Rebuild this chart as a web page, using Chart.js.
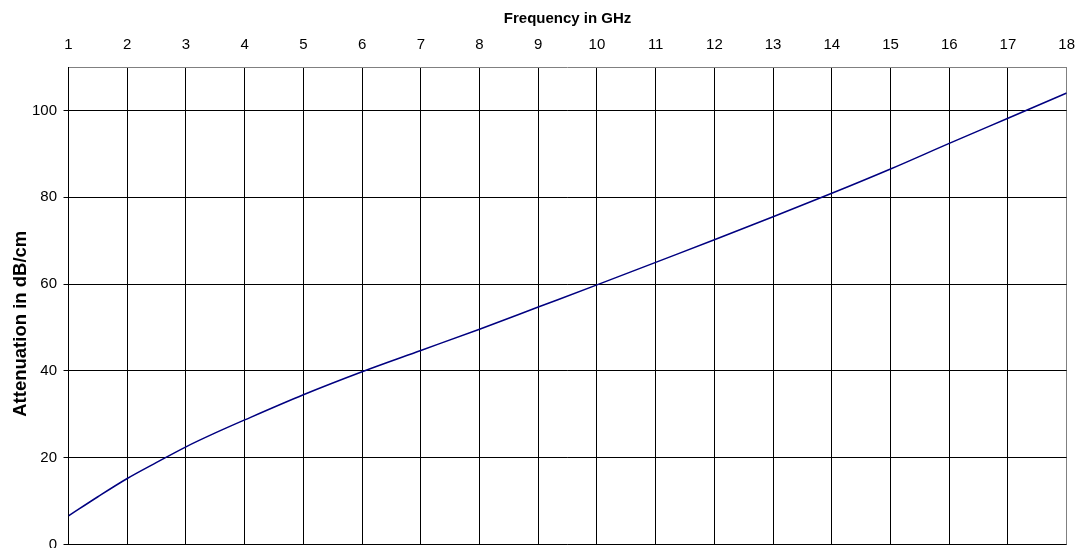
<!DOCTYPE html>
<html>
<head>
<meta charset="utf-8">
<script src="https://cdn.jsdelivr.net/npm/chart.js@4/dist/chart.umd.min.js"></script>
<style>
  html, body { margin: 0; padding: 0; background: #fff; overflow: hidden; }
  #wrap { width: 1078px; height: 560px; }
</style>
</head>
<body>
<div id="wrap"><canvas id="chart"></canvas></div>
<script>
// frequency in GHz and attenuation (denser where it bends)
const frequencies = [1, 1.5, 2, 2.5, 3, 3.5, 4, 5, 6, 7, 8, 9, 10, 11, 12, 13, 14, 15, 16, 17, 18];
const attenuation = [6.6, 11.0, 15.2, 18.9, 22.5, 25.7, 28.7, 34.5, 39.8, 44.7, 49.6, 54.7, 59.8, 65.0, 70.2, 75.5, 80.9, 86.5, 92.4, 98.2, 104.0];
const xTickStep = 1;
const yTicks = [0, 20, 40, 60, 80, 100];

const font = "'Liberation Sans', Arial, sans-serif";

new Chart(document.getElementById("chart"), {
  type: "line",
  data: {
    datasets: [{
      label: "Attenuation",
      data: frequencies.map((f, i) => ({ x: f, y: attenuation[i] })),
      borderColor: "#000080",
      borderWidth: 1.5,
      pointRadius: 0,
      cubicInterpolationMode: "monotone",
      fill: false
    }]
  },
  options: {
    responsive: true,
    maintainAspectRatio: false,
    animation: false,
    layout: { padding: { left: 9.4, right: 0, top: 9.5, bottom: 0 } },
    plugins: { legend: { display: false }, tooltip: { enabled: false } },
    scales: {
      x: {
        type: "linear",
        position: "top",
        min: 1,
        max: 18,
        ticks: { stepSize: xTickStep, color: "#000", font: { family: font, size: 15 }, padding: 3 },
        grid: {
          color: (ctx) => ctx.tick && ctx.tick.value === 18 ? "#808080" : "#000",
          lineWidth: 1,
          tickLength: 10.5,
          tickColor: "rgba(0,0,0,0)"
        },
        border: { color: "#808080", width: 1 },
        title: { display: true, text: "Frequency in GHz", color: "#000", font: { family: font, size: 15, weight: "bold" }, padding: { top: 0, bottom: 5 } }
      },
      y: {
        type: "linear",
        min: 0,
        max: 110,
        afterBuildTicks: (axis) => { axis.ticks = yTicks.map((v) => ({ value: v })); },
        ticks: { color: "#000", font: { family: font, size: 15 }, padding: 6.5 },
        grid: { color: "#000", lineWidth: 1, tickLength: 5 },
        border: { color: "#000", width: 1 },
        // trailing spaces push the label down a little, as in the original
        title: { display: true, text: "Attenuation in dB/cm       ", color: "#000", font: { family: font, size: 18.5, weight: "bold" }, padding: { top: 0, bottom: -6.1 } }
      }
    }
  }
});
</script>
</body>
</html>
